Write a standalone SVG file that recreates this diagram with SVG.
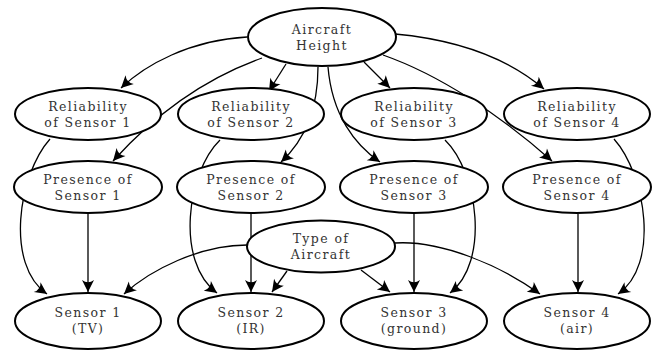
<svg xmlns="http://www.w3.org/2000/svg" width="669" height="351" viewBox="0 0 669 351">
<style>
.n ellipse{fill:#fff;stroke:#000;stroke-width:2}
.n text{font-family:"DejaVu Serif","Liberation Serif",serif;font-size:12.5px;letter-spacing:1.4px;text-anchor:middle;fill:#333}
.e path{fill:none;stroke:#000;stroke-width:1.3;marker-end:url(#ah)}
</style>
<defs>
<marker id="ah" markerUnits="userSpaceOnUse" markerWidth="14" markerHeight="14" refX="12" refY="6" orient="auto" overflow="visible">
<path d="M12,6 L0,0 Q4.5,6 0,12 Z" fill="#000"/>
</marker>
</defs>
<g id="edges" class="e">
<path d="M247,37 C190,40 145,65 121,88"/>
<path d="M262,58 C200,80 150,120 113,161"/>
<path d="M286,64 L269,91"/>
<path d="M318,67 C318,110 305,140 281,162"/>
<path d="M328,67 C332,115 355,145 380,162"/>
<path d="M364,62 L390,88"/>
<path d="M383,55 C440,75 500,115 552,161"/>
<path d="M395,34 C460,40 510,60 544,89"/>
<path d="M50,139 C18,175 5,265 47,294"/>
<path d="M220,140 C187,172 175,262 217,293"/>
<path d="M445,140 C478,172 490,262 450,293"/>
<path d="M614,139 C646,175 660,265 618,294"/>
<path d="M88,214 L88,292"/>
<path d="M251,214 L251,292"/>
<path d="M414,214 L414,292"/>
<path d="M578,214 L578,292"/>
<path d="M247,245 C200,245 150,270 124,294"/>
<path d="M287,271 L272,292"/>
<path d="M361,270 L390,292"/>
<path d="M395,243 C440,240 500,265 540,294"/>
</g>
<g id="height" class="n"><ellipse cx="322" cy="37" rx="74" ry="29"/><text x="322" y="33.5">Aircraft</text><text x="322" y="49.5">Height</text></g>
<g id="rel1" class="n"><ellipse cx="88" cy="114" rx="73" ry="26"/><text x="88" y="110.5">Reliability</text><text x="88" y="126.5">of Sensor 1</text></g>
<g id="rel2" class="n"><ellipse cx="251" cy="114" rx="73" ry="26"/><text x="251" y="110.5">Reliability</text><text x="251" y="126.5">of Sensor 2</text></g>
<g id="rel3" class="n"><ellipse cx="414" cy="114" rx="73" ry="26"/><text x="414" y="110.5">Reliability</text><text x="414" y="126.5">of Sensor 3</text></g>
<g id="rel4" class="n"><ellipse cx="577" cy="114" rx="73" ry="26"/><text x="577" y="110.5">Reliability</text><text x="577" y="126.5">of Sensor 4</text></g>
<g id="pres1" class="n"><ellipse cx="88" cy="187" rx="74" ry="26"/><text x="88" y="183.5">Presence of</text><text x="88" y="199.5">Sensor 1</text></g>
<g id="pres2" class="n"><ellipse cx="251" cy="187" rx="74" ry="26"/><text x="251" y="183.5">Presence of</text><text x="251" y="199.5">Sensor 2</text></g>
<g id="pres3" class="n"><ellipse cx="414" cy="187" rx="74" ry="26"/><text x="414" y="183.5">Presence of</text><text x="414" y="199.5">Sensor 3</text></g>
<g id="pres4" class="n"><ellipse cx="577" cy="187" rx="74" ry="26"/><text x="577" y="183.5">Presence of</text><text x="577" y="199.5">Sensor 4</text></g>
<g id="type" class="n"><ellipse cx="321" cy="246.5" rx="74" ry="26"/><text x="321" y="243">Type of</text><text x="321" y="259">Aircraft</text></g>
<g id="s1" class="n"><ellipse cx="88" cy="321" rx="73" ry="28"/><text x="88" y="317">Sensor 1</text><text x="88" y="333">(TV)</text></g>
<g id="s2" class="n"><ellipse cx="251" cy="321" rx="73" ry="28"/><text x="251" y="317">Sensor 2</text><text x="251" y="333">(IR)</text></g>
<g id="s3" class="n"><ellipse cx="414" cy="321" rx="73" ry="28"/><text x="414" y="317">Sensor 3</text><text x="414" y="333">(ground)</text></g>
<g id="s4" class="n"><ellipse cx="577" cy="321" rx="73" ry="28"/><text x="577" y="317">Sensor 4</text><text x="577" y="333">(air)</text></g>
</svg>
